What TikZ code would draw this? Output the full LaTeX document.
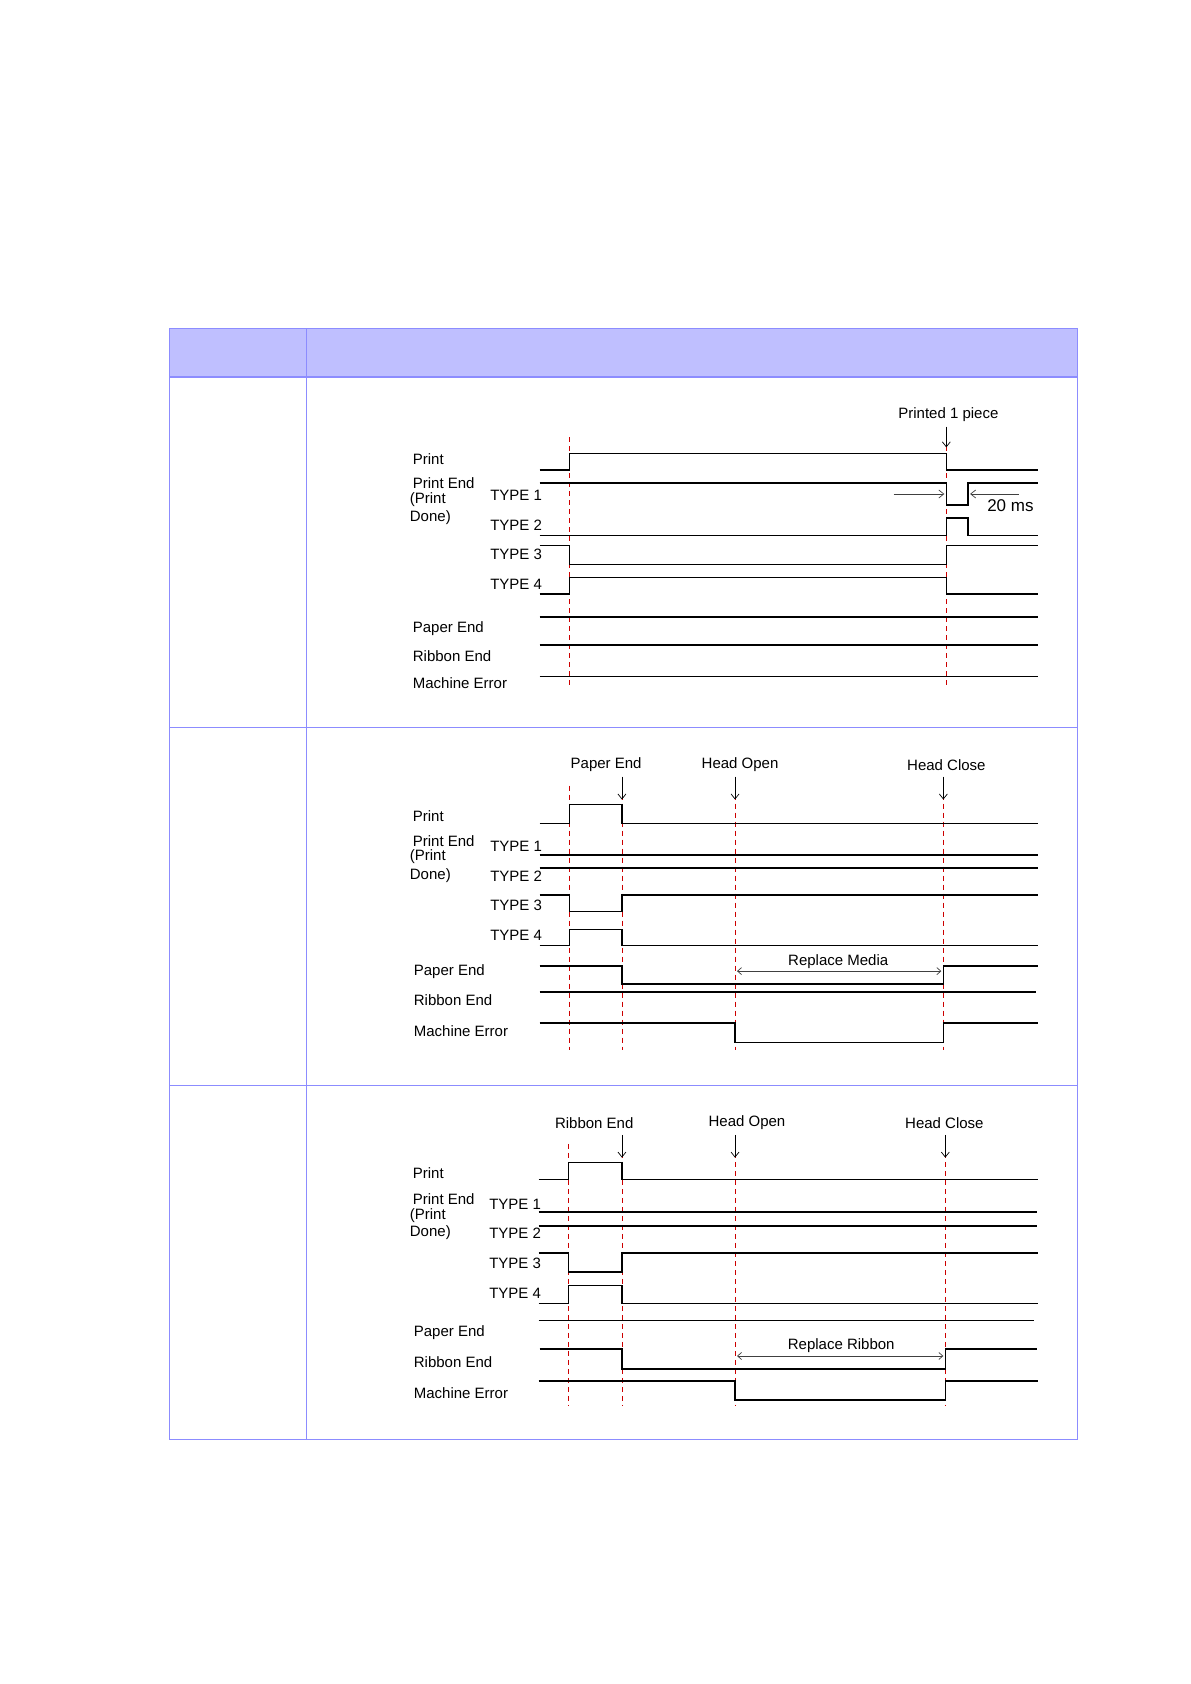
\documentclass[tikz,border=0pt]{standalone}
\usepackage{fontspec}
\setmainfont{Liberation Sans}
\usetikzlibrary{arrows.meta}
\begin{document}
\begin{tikzpicture}[x=1pt,y=-1pt,
  lbl/.style={anchor=west,inner sep=0pt,font=\fontsize{15}{17}\selectfont},
  sig/.style={line width=1.6pt,black},
  redmark/.style={red!80!black,line width=0.7pt,dash pattern=on 5pt off 4pt},
  evt/.style={-{Straight Barb[length=5pt,width=8pt]},line width=0.7pt},
  dim/.style={{Straight Barb[length=4pt,width=7pt]}-{Straight Barb[length=4pt,width=7pt]},line width=0.7pt,gray!50!black},
  tb/.style={draw=blue!45!white,line width=1.2pt}]
\useasboundingbox (0,0) rectangle (1191,1684);
\begin{scope}[scale=0.992]
% table
\fill[blue!25!white] (171,331) rectangle (1086,380);
\draw[tb] (171,331) rectangle (1086,1451);
\draw[tb] (309,331) -- (309,1451);
\draw[tb] (171,380) -- (1086,380);
\draw[tb] (171,733) -- (1086,733);
\draw[tb] (171,1094) -- (1086,1094);

% ===== panel 1
\foreach \x in {574,954} \draw[redmark] (\x,441) -- (\x,695);
\node[lbl] (p1print) at (416,463) {Print};
\node[lbl] (p1pe) at (416,487) {Print End};
\node[lbl] (p1pp) at (413,504) {(Print};
\node[lbl] (p1dn) at (413,522) {Done)};
\node[lbl] (p1t1) at (494,499) {TYPE 1};
\node[lbl] (p1t2) at (494,529) {TYPE 2};
\node[lbl] (p1t3) at (494,559) {TYPE 3};
\node[lbl] (p1t4) at (494,589) {TYPE 4};
\node[lbl] (p1pap) at (416,634) {Paper End};
\node[lbl] (p1rib) at (416,661) {Ribbon End};
\node[lbl] (p1me) at (416,689) {Machine Error};
\node[lbl,anchor=center] (p1ev) at (956,418) {Printed 1 piece};
\coordinate (p1evt) at (954,451);
\coordinate (p1evs) at (954,430);
\draw[evt] (p1evs) -- (p1evt);
\draw[sig] (544,474) -- (574,474) -- (574,457) -- (954,457) -- (954,474) -- (1046,474);
\draw[sig] (544,487) -- (954,487) -- (954,509) -- (976,509) -- (976,487) -- (1046,487);
\draw[sig] (544,540) -- (954,540) -- (954,522) -- (976,522) -- (976,540) -- (1046,540);
\draw[sig] (544,550) -- (574,550) -- (574,569) -- (954,569) -- (954,550) -- (1046,550);
\draw[sig] (544,599) -- (574,599) -- (574,582) -- (954,582) -- (954,599) -- (1046,599);
\draw[sig] (544,622) -- (1046,622);
\draw[sig] (544,650) -- (1046,650);
\draw[sig] (544,682) -- (1046,682);
\coordinate (p1a) at (901,498); \coordinate (p1b) at (952,498);
\coordinate (p1c) at (1027,498); \coordinate (p1d) at (978,498);
\draw[evt,gray!50!black] (p1a) -- (p1b);
\draw[evt,gray!50!black] (p1c) -- (p1d);
\node[lbl,font=\fontsize{17}{19}\selectfont] (p1ms) at (995,510) {20 ms};

% ===== panel 2
\foreach \x in {574,627,741,951} \draw[redmark] (\x,792) -- (\x,1058);
\node[lbl,anchor=center] (p2e1) at (611,771) {Paper End};
\node[lbl,anchor=center] (p2e2) at (746,771) {Head Open};
\node[lbl,anchor=center] (p2e3) at (954,771) {Head Close};
\coordinate (p2a1) at (627,806); \coordinate (p2a2) at (741,806); \coordinate (p2a3) at (951,806);
\coordinate (p2s1) at (627,783); \coordinate (p2s2) at (741,783); \coordinate (p2s3) at (951,783);
\draw[evt] (p2s1) -- (p2a1);
\draw[evt] (p2s2) -- (p2a2);
\draw[evt] (p2s3) -- (p2a3);
\node[lbl] (p2print) at (416,823) {Print};
\node[lbl] (p2pe) at (416,848) {Print End};
\node[lbl] (p2pp) at (413,864) {(Print};
\node[lbl] (p2dn) at (413,883) {Done)};
\node[lbl] (p2t1) at (494,853) {TYPE 1};
\node[lbl] (p2t2) at (494,883) {TYPE 2};
\node[lbl] (p2t3) at (494,913) {TYPE 3};
\node[lbl] (p2t4) at (494,943) {TYPE 4};
\node[lbl] (p2pap) at (417,979) {Paper End};
\node[lbl] (p2rib) at (417,1008) {Ribbon End};
\node[lbl] (p2me) at (417,1039) {Machine Error};
\draw[sig] (544,830) -- (574,830) -- (574,811) -- (627,811) -- (627,830) -- (1046,830);
\draw[sig] (544,862) -- (1046,862);
\draw[sig] (544,875) -- (1046,875);
\draw[sig] (544,902) -- (574,902) -- (574,919) -- (627,919) -- (627,902) -- (1046,902);
\draw[sig] (544,953) -- (574,953) -- (574,937) -- (627,937) -- (627,953) -- (1046,953);
\draw[sig] (544,974) -- (627,974) -- (627,992) -- (951,992) -- (951,974) -- (1046,974);
\draw[sig] (544,1000) -- (1044,1000);
\draw[sig] (544,1031) -- (741,1031) -- (741,1051) -- (951,1051) -- (951,1031) -- (1046,1031);
\node[lbl,anchor=center] (p2rm) at (845,969) {Replace Media};
\coordinate (p2l) at (743,979); \coordinate (p2r) at (949,979);
\draw[dim] (p2l) -- (p2r);

% ===== panel 3
\foreach \x in {573,627,741,953} \draw[redmark] (\x,1153) -- (\x,1417);
\node[lbl,anchor=center] (p3e1) at (599,1132) {Ribbon End};
\node[lbl,anchor=center] (p3e2) at (753,1132) {Head Open};
\node[lbl,anchor=center] (p3e3) at (952,1132) {Head Close};
\coordinate (p3a1) at (627,1167); \coordinate (p3a2) at (741,1167); \coordinate (p3a3) at (953,1167);
\coordinate (p3s1) at (627,1144); \coordinate (p3s2) at (741,1144); \coordinate (p3s3) at (953,1144);
\draw[evt] (p3s1) -- (p3a1);
\draw[evt] (p3s2) -- (p3a2);
\draw[evt] (p3s3) -- (p3a3);
\node[lbl] (p3print) at (416,1183) {Print};
\node[lbl] (p3pe) at (416,1209) {Print End};
\node[lbl] (p3pp) at (413,1225) {(Print};
\node[lbl] (p3dn) at (413,1243) {Done)};
\node[lbl] (p3t1) at (493,1214) {TYPE 1};
\node[lbl] (p3t2) at (493,1243) {TYPE 2};
\node[lbl] (p3t3) at (493,1274) {TYPE 3};
\node[lbl] (p3t4) at (493,1304) {TYPE 4};
\node[lbl] (p3pap) at (417,1343) {Paper End};
\node[lbl] (p3rib) at (417,1373) {Ribbon End};
\node[lbl] (p3me) at (417,1404) {Machine Error};
\draw[sig] (543,1189) -- (573,1189) -- (573,1172) -- (627,1172) -- (627,1189) -- (1046,1189);
\draw[sig] (543,1222) -- (1045,1222);
\draw[sig] (543,1236) -- (1045,1236);
\draw[sig] (543,1263) -- (573,1263) -- (573,1282) -- (627,1282) -- (627,1263) -- (1046,1263);
\draw[sig] (543,1314) -- (573,1314) -- (573,1296) -- (627,1296) -- (627,1314) -- (1046,1314);
\draw[sig] (543,1331) -- (1042,1331);
\draw[sig] (544,1360) -- (627,1360) -- (627,1380) -- (953,1380) -- (953,1360) -- (1045,1360);
\draw[sig] (543,1392) -- (741,1392) -- (741,1411) -- (953,1411) -- (953,1392) -- (1046,1392);
\node[lbl,anchor=center] (p3rr) at (848,1356) {Replace Ribbon};
\coordinate (p3l) at (743,1367); \coordinate (p3r) at (951,1367);
\draw[dim] (p3l) -- (p3r);
\end{scope}
\end{tikzpicture}
\end{document}
